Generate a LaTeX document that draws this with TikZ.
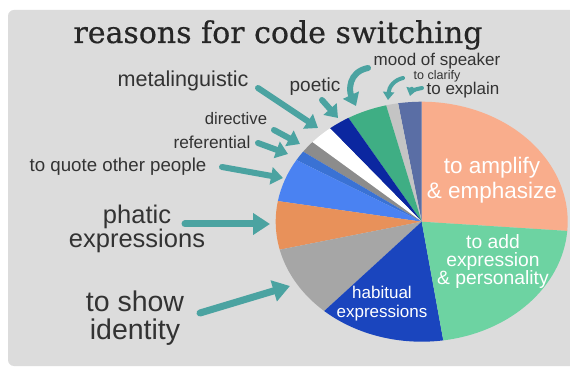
\documentclass[tikz,border=0pt]{standalone}
\usepackage{fontspec}
\setmainfont{Liberation Sans}
\newfontfamily\titlefont[FakeBold=0.5]{DejaVu Serif}
\usetikzlibrary{arrows.meta}

% palette
\definecolor{panel}{HTML}{DCDCDC}
\definecolor{ink}{HTML}{333333}
\definecolor{titleink}{HTML}{262626}
\definecolor{teal}{HTML}{4BA3A1}
\definecolor{cSalmon}{HTML}{F9AD8C}
\definecolor{cSlate}{HTML}{5A6EA5}
\definecolor{cSilver}{HTML}{C4C4C4}
\definecolor{cJade}{HTML}{3FAE84}
\definecolor{cNavy}{HTML}{0B27A0}
\definecolor{cWhite}{HTML}{FFFFFF}
\definecolor{cSteel}{HTML}{8C8C8C}
\definecolor{cMidBlue}{HTML}{3A72D4}
\definecolor{cSky}{HTML}{4A82F2}
\definecolor{cOrange}{HTML}{E8915A}
\definecolor{cGray}{HTML}{A6A6A6}
\definecolor{cRoyal}{HTML}{1A45BE}
\definecolor{cMint}{HTML}{6DD3A2}

\newcommand{\fs}[2]{\fontsize{#1}{#2}\selectfont}

\begin{document}
\begin{tikzpicture}[x=1pt,y=1pt,
  lbl/.style={text=ink, inner sep=0pt},
  inlbl/.style={text=white, inner sep=0pt, align=center},
  pointer/.style={draw=teal, line width=6pt, line cap=round,
    -{Triangle[length=12pt,width=17pt]}},
  bigpointer/.style={draw=teal, line width=7pt, line cap=round,
    -{Triangle[length=17pt,width=21pt]}},
  thinpointer/.style={draw=teal, line width=4pt, line cap=round,
    -{Triangle[length=8pt,width=11pt]}},
]
\useasboundingbox (0,0) rectangle (570,375);
\fill[white] (0,0) rectangle (570,375);
\fill[panel, rounded corners=6pt] (8,9) rectangle (580,365);

% title
\node[text=titleink, inner sep=0pt, anchor=base] (title) at (278,332)
  {\titlefont\fs{30}{34}reasons for code switching};

% pie: start angle / end angle / colour
\coordinate (pc) at (421.7,153.3);
\foreach \a/\b/\c in {-4.4/90/cSalmon, 90/99.3/cSlate, 99.3/104.1/cSilver,
    104.1/120.1/cJade, 120.1/128.9/cNavy, 128.9/138.5/cWhite,
    138.5/144.3/cSteel, 144.3/149.1/cMidBlue, 149.1/170.1/cSky,
    170.1/193.5/cOrange, 193.5/228.1/cGray, 228.1/278.5/cRoyal,
    278.5/355.6/cMint}
  \fill[\c] (pc) -- ++(\a:146 and 120)
    arc[start angle=\a, end angle=\b, x radius=146, y radius=120] -- cycle;

% labels inside the pie
\node[inlbl, font=\fs{22.5}{25}] (amp) at (492,194.5) {to amplify\\\& emphasize};
\node[inlbl, font=\fs{19.3}{18}] (add) at (493,113) {to add\\expression\\\& personality};
\node[inlbl, font=\fs{17}{19}] (hab) at (382,71.5) {habitual\\expressions};

% labels around the pie
\node[lbl, anchor=base, font=\fs{21.6}{24}] (meta) at (183,288) {metalinguistic};
\node[lbl, anchor=base, font=\fs{19}{22}] (poet) at (315,283) {poetic};
\node[lbl, anchor=base, font=\fs{17}{20}] (mood) at (437,309.5) {mood of speaker};
\node[lbl, anchor=base, font=\fs{12.5}{15}] (clar) at (437,295) {to clarify};
\node[lbl, anchor=base, font=\fs{17}{20}] (expl) at (463,280) {to explain};
\node[lbl, anchor=base, font=\fs{16.7}{19}] (dir) at (236,250) {directive};
\node[lbl, anchor=base, font=\fs{17.3}{20}] (ref) at (212,226) {referential};
\node[lbl, anchor=base, font=\fs{18.7}{21}] (quote) at (118,203) {to quote other people};
\node[lbl, align=center, font=\fs{25.5}{20}] (phat) at (137,146) {phatic\\expressions};
\node[lbl, align=center, font=\fs{28.5}{28}] (ident) at (135,57) {to show\\identity};

% arrow end points
\coordinate (metaS) at (258,287);  \coordinate (metaE) at (318,247);
\coordinate (poetS) at (322,275);  \coordinate (poetE) at (338,257);
\coordinate (moodS) at (368,307);  \coordinate (moodE) at (356,269);
\coordinate (clarS) at (403,297);  \coordinate (clarE) at (388,275);
\coordinate (explS) at (422,287);  \coordinate (explE) at (410,279);
\coordinate (dirS)  at (274,245);  \coordinate (dirE)  at (300,231);
\coordinate (refS)  at (258,232);  \coordinate (refE)  at (288,221);
\coordinate (quoS)  at (222,208);  \coordinate (quoE)  at (283,197);
\coordinate (phaS)  at (185,151);  \coordinate (phaE)  at (270,151);
\coordinate (ideS)  at (200,62);   \coordinate (ideE)  at (290,89);

% arrows
\draw[pointer] (metaS) -- (metaE);
\draw[pointer] (poetS) -- (poetE);
\draw[pointer] (moodS) .. controls (348,303) and (349,284) .. (moodE);
\draw[thinpointer] (clarS) .. controls (394,295) and (389,288) .. (clarE);
\draw[thinpointer] (explS) .. controls (415,286) and (411,283) .. (explE);
\draw[pointer] (dirS) -- (dirE);
\draw[pointer] (refS) -- (refE);
\draw[pointer] (quoS) -- (quoE);
\draw[bigpointer] (phaS) -- (phaE);
\draw[bigpointer] (ideS) -- (ideE);
\end{tikzpicture}
\end{document}
